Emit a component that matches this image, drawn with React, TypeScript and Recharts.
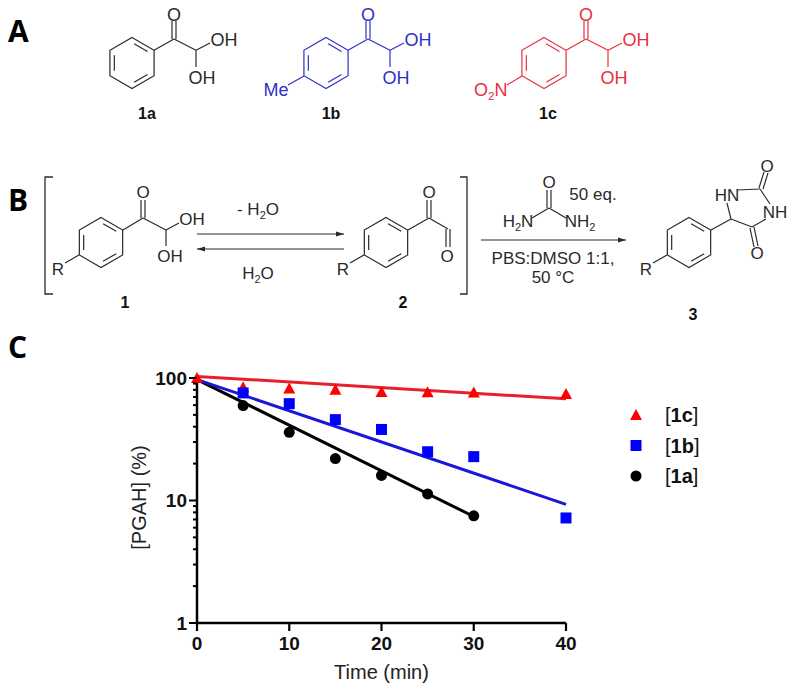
import { ComposedChart, Line, XAxis, YAxis, Legend } from 'recharts';

const times = [0, 5, 10, 15, 20, 25, 30, 40];
const values1a = [null, 59.5, 36, 22, 16, 11.3, 7.5, null];
const values1b = [null, 75.5, 61.7, 45.7, 38, 25, 22.8, 7.2];
const values1c = [100, 84, 82, 80, 77, 76.5, 76, 74];
const fit1a = [97, null, null, null, null, null, 7.4, null];
const fit1b = [97, null, null, null, null, null, null, 9.3];
const fit1c = [103, null, null, null, null, null, null, 67.6];
const xTicks = [0, 10, 20, 30, 40];
const yMajorTicks = [1, 10, 100];
const yTicks = [1, 2, 3, 4, 5, 6, 7, 8, 9, 10, 20, 30, 40, 50, 60, 70, 80, 90, 100];
const legendItems = [
  { label: '1c', shape: 'triangle' },
  { label: '1b', shape: 'square' },
  { label: '1a', shape: 'circle' },
];

const tableRows = times.map((time, i) => ({
  time,
  a: values1a[i],
  b: values1b[i],
  c: values1c[i],
  fitA: fit1a[i],
  fitB: fit1b[i],
  fitC: fit1c[i],
}));

const RED = '#ff0000';
const BLUE = '#0000ff';
const FONT = '"Liberation Sans", Arial, sans-serif';
const CHEM_BLUE = '#3030c8';
const CHEM_RED = '#e8303c';
const CHEM_GREY = '#2a2a2a';

function Marker({ shape, cx, cy, color }: { shape: string; cx: number; cy: number; color: string }) {
  if (shape === 'triangle') {
    return <polygon points={`${cx},${cy - 6} ${cx + 6},${cy + 5} ${cx - 6},${cy + 5}`} fill={color} />;
  }
  if (shape === 'square') {
    return <rect x={cx - 5.5} y={cy - 5.5} width={11} height={11} fill={color} />;
  }
  return <circle cx={cx} cy={cy} r={5.5} fill={color} />;
}

const dotFor = (shape: string, color: string) => (props: any) => {
  const { cx, cy, index } = props;
  if (cx == null || cy == null) return <g key={index} />;
  return <Marker key={index} shape={shape} cx={cx} cy={cy} color={color} />;
};

function LogTick({ x, y, payload }: any) {
  const major = yMajorTicks.includes(payload.value);
  return (
    <g>
      <line x1={x} x2={x - (major ? 8 : 4)} y1={y} y2={y} stroke="#000" strokeWidth={2} />
      {major && (
        <text x={x - 10} y={y + 7} textAnchor="end" fontFamily={FONT} fontWeight="bold" fontSize={19} fill="#111">
          {payload.value}
        </text>
      )}
    </g>
  );
}

function LegendBox() {
  return (
    <svg width={110} height={100} style={{ display: 'block' }}>
      {legendItems.map((item, i) => {
        const color = item.shape === 'triangle' ? RED : item.shape === 'square' ? BLUE : '#000';
        return (
          <g key={item.label}>
            <Marker shape={item.shape} cx={14} cy={15 + i * 30.5} color={color} />
            <text x={43} y={22 + i * 30.5} fontFamily={FONT} fontSize={20} fill="#111">
              [<tspan fontWeight="bold">{item.label}</tspan>]
            </text>
          </g>
        );
      })}
    </svg>
  );
}

// text helper, subscripts are written as H_2O
function Chem({ x, y, t, color, anchor = 'middle', size = 17 }: any) {
  const parts = String(t).split('_');
  return (
    <text x={x} y={y} textAnchor={anchor} fontFamily={FONT} fontSize={size} fill={color}>
      {parts.map((p, i) => {
        if (i === 0) return <tspan key={i}>{p}</tspan>;
        return (
          <tspan key={i}>
            <tspan dy={4} fontSize={size * 0.65}>{p[0]}</tspan>
            {p.length > 1 && <tspan dy={-4}>{p.slice(1)}</tspan>}
          </tspan>
        );
      })}
    </text>
  );
}

function Bond({ p, color, w = 1.2 }: any) {
  return <line x1={p[0]} y1={p[1]} x2={p[2]} y2={p[3]} stroke={color} strokeWidth={w} />;
}

function Ring({ cx, cy, r, color }: any) {
  const pts = [-90, -30, 30, 90, 150, 210].map((d) => [
    cx + r * Math.cos((d * Math.PI) / 180),
    cy + r * Math.sin((d * Math.PI) / 180),
  ]);
  const inner = pts.map((p) => [cx + (p[0] - cx) * 0.8, cy + (p[1] - cy) * 0.8]);
  return (
    <g>
      <polygon points={pts.map((p) => p.join(',')).join(' ')} fill="none" stroke={color} strokeWidth={1.2} />
      {[[0, 1], [2, 3], [4, 5]].map(([a, b]) => {
        const s = 0.12;
        const ax = inner[a][0] + (inner[b][0] - inner[a][0]) * s;
        const ay = inner[a][1] + (inner[b][1] - inner[a][1]) * s;
        const bx = inner[b][0] + (inner[a][0] - inner[b][0]) * s;
        const by = inner[b][1] + (inner[a][1] - inner[b][1]) * s;
        return <line key={a} x1={ax} y1={ay} x2={bx} y2={by} stroke={color} strokeWidth={1.2} />;
      })}
    </g>
  );
}

function Carbonyl({ x, y, top, color }: any) {
  return (
    <g>
      <Bond p={[x - 2, y, x - 2, top]} color={color} />
      <Bond p={[x + 2, y, x + 2, top]} color={color} />
    </g>
  );
}

function Hydrate({ cx, cy, color }: any) {
  return (
    <g>
      <Ring cx={cx} cy={cy} r={25.5} color={color} />
      <Bond p={[cx + 22, cy - 12.7, cx + 42, cy - 24]} color={color} />
      <Carbonyl x={cx + 42} y={cy - 24} top={cy - 42} color={color} />
      <Bond p={[cx + 42, cy - 24, cx + 64, cy - 12.7]} color={color} />
      <Bond p={[cx + 64, cy - 12.7, cx + 78, cy - 20]} color={color} />
      <Bond p={[cx + 64, cy - 12.7, cx + 64, cy + 4]} color={color} />
      <Chem x={cx + 42} y={cy - 42.5} t="O" color={color} size={18} />
      <Chem x={cx + 92} y={cy - 17} t="OH" color={color} size={18} />
      <Chem x={cx + 70} y={cy + 21} t="OH" color={color} size={18} />
    </g>
  );
}

function Arrow({ x1, x2, y }: any) {
  const dir = x2 > x1 ? 1 : -1;
  return (
    <g>
      <line x1={x1} y1={y} x2={x2} y2={y} stroke={CHEM_GREY} strokeWidth={1.2} />
      <polygon points={`${x2},${y} ${x2 - dir * 8},${y - 2.5} ${x2 - dir * 8},${y + 2.5}`} fill={CHEM_GREY} />
    </g>
  );
}

function Schemes() {
  const bk = CHEM_GREY;
  return (
    <svg width={791} height={375} style={{ position: 'absolute', left: 0, top: 0 }}>
      <text x={8} y={42} fontFamily='"Open Sans"' fontWeight="bold" fontSize={30} fill="#000">A</text>
      <text x={8} y={211} fontFamily='"Open Sans"' fontWeight="bold" fontSize={30} fill="#000">B</text>
      <text x={8} y={358} fontFamily='"Open Sans"' fontWeight="bold" fontSize={30} fill="#000">C</text>

      <Hydrate cx={132} cy={63} color={bk} />
      <Hydrate cx={326} cy={63} color={CHEM_BLUE} />
      <Bond p={[304, 76, 288, 85]} color={CHEM_BLUE} />
      <Chem x={276} y={96} t="Me" color={CHEM_BLUE} size={18} />
      <Hydrate cx={544} cy={63} color={CHEM_RED} />
      <Bond p={[522, 76, 507, 85]} color={CHEM_RED} />
      <Chem x={474} y={96} t="O_2N" color={CHEM_RED} anchor="start" size={18} />
      <text x={147} y={119} textAnchor="middle" fontFamily={FONT} fontWeight="bold" fontSize={16} fill="#111">1a</text>
      <text x={331} y={119} textAnchor="middle" fontFamily={FONT} fontWeight="bold" fontSize={16} fill="#111">1b</text>
      <text x={548} y={119} textAnchor="middle" fontFamily={FONT} fontWeight="bold" fontSize={16} fill="#111">1c</text>

      <polyline points="53,177 45,177 45,294 53,294" fill="none" stroke={bk} strokeWidth={1.3} />
      <polyline points="460,177 467,177 467,294 460,294" fill="none" stroke={bk} strokeWidth={1.3} />

      <Ring cx={101} cy={242.5} r={25} color={bk} />
      <Bond p={[79, 255, 65, 263]} color={bk} />
      <Chem x={58} y={275} t="R" color={bk} />
      <Bond p={[123, 230, 143, 218]} color={bk} />
      <Carbonyl x={143} y={218} top={200} color={bk} />
      <Bond p={[143, 218, 166, 230]} color={bk} />
      <Bond p={[166, 230, 179, 223]} color={bk} />
      <Bond p={[166, 230, 166, 246]} color={bk} />
      <Chem x={143} y={198} t="O" color={bk} />
      <Chem x={192} y={225} t="OH" color={bk} />
      <Chem x={170} y={262} t="OH" color={bk} />

      <Arrow x1={197} x2={344} y={234} />
      <Arrow x1={344} x2={197} y={249} />
      <Chem x={258} y={215} t="- H_2O" color={bk} />
      <Chem x={258} y={279} t="H_2O" color={bk} />

      <Ring cx={386} cy={242.5} r={25} color={bk} />
      <Bond p={[364, 255, 350, 263]} color={bk} />
      <Chem x={343} y={275} t="R" color={bk} />
      <Bond p={[408, 230, 429, 218]} color={bk} />
      <Carbonyl x={429} y={218} top={200} color={bk} />
      <Bond p={[429, 218, 448, 229]} color={bk} />
      <Carbonyl x={448} y={229} top={247} color={bk} />
      <Chem x={429} y={198} t="O" color={bk} />
      <Chem x={447} y={262} t="O" color={bk} />

      <text x={125} y={308} textAnchor="middle" fontFamily={FONT} fontWeight="bold" fontSize={16} fill="#111">1</text>
      <text x={403} y={308} textAnchor="middle" fontFamily={FONT} fontWeight="bold" fontSize={16} fill="#111">2</text>
      <text x={693} y={320} textAnchor="middle" fontFamily={FONT} fontWeight="bold" fontSize={16} fill="#111">3</text>

      <Arrow x1={481} x2={626} y={240} />
      <Carbonyl x={549} y={208} top={190} color={bk} />
      <Bond p={[549, 208, 532, 218]} color={bk} />
      <Bond p={[549, 208, 566, 218]} color={bk} />
      <Chem x={549} y={188} t="O" color={bk} />
      <Chem x={518} y={227} t="H_2N" color={bk} />
      <Chem x={580} y={227} t="NH_2" color={bk} />
      <Chem x={593} y={200} t="50 eq." color={bk} />
      <Chem x={553} y={264} t="PBS:DMSO 1:1," color={bk} />
      <Chem x={553} y={283} t="50 °C" color={bk} />

      <Ring cx={689} cy={242.5} r={25} color={bk} />
      <Bond p={[667, 255, 653, 263]} color={bk} />
      <Chem x={646} y={275} t="R" color={bk} />
      <Bond p={[711, 230, 731, 219]} color={bk} />
      <Bond p={[731, 219, 752, 227]} color={bk} />
      <Bond p={[731, 219, 727, 203]} color={bk} />
      <Bond p={[737, 190, 760, 189]} color={bk} />
      <Bond p={[760, 189, 770, 204]} color={bk} />
      <Bond p={[752, 227, 766, 219]} color={bk} />
      <Bond p={[759, 188, 764, 172]} color={bk} />
      <Bond p={[763, 189, 768, 173]} color={bk} />
      <Bond p={[750, 228, 754, 247]} color={bk} />
      <Bond p={[754, 227, 758, 246]} color={bk} />
      <Chem x={727} y={201} t="HN" color={bk} />
      <Chem x={767} y={172} t="O" color={bk} />
      <Chem x={775} y={218} t="NH" color={bk} />
      <Chem x={757} y={259} t="O" color={bk} />
    </svg>
  );
}

export default function App() {
  return (
    <div style={{ position: 'absolute', left: 0, top: 0, width: 791, height: 686, background: '#fff' }}>
      <Schemes />
      <ComposedChart
        width={791}
        height={686}
        data={tableRows}
        margin={{ top: 376.4, right: 225, left: 137, bottom: 23 }}
        style={{ position: 'absolute', left: 0, top: 0 }}
      >
        <XAxis
          dataKey="time"
          type="number"
          domain={[0, 40]}
          ticks={xTicks}
          height={40}
          tickSize={8}
          tickMargin={6}
          axisLine={{ stroke: '#000', strokeWidth: 2.5 }}
          tickLine={{ stroke: '#000', strokeWidth: 2.2 }}
          tick={{ fontFamily: FONT, fontWeight: 'bold', fontSize: 19, fill: '#111' }}
          label={{ value: 'Time (min)', position: 'bottom', offset: 0, dy: 2, style: { fontFamily: FONT, fontSize: 20, fill: '#222' } }}
        />
        <YAxis
          type="number"
          scale="log"
          domain={[1, 100]}
          ticks={yTicks}
          interval={0}
          width={60}
          tickSize={0}
          tickMargin={0}
          tickLine={false}
          axisLine={{ stroke: '#000', strokeWidth: 2.5 }}
          tick={<LogTick />}
          label={{ value: '[PGAH] (%)', angle: -90, position: 'insideLeft', offset: 0, dx: 2, dy: 50, style: { fontFamily: FONT, fontSize: 20, fill: '#222' } }}
        />
        <Legend
          layout="vertical"
          align="center"
          verticalAlign="middle"
          wrapperStyle={{ position: 'absolute', left: 622, top: 400, width: 110, height: 100 }}
          content={<LegendBox />}
        />
        <Line dataKey="fitA" stroke="#000" strokeWidth={3} dot={false} connectNulls isAnimationActive={false} legendType="none" />
        <Line dataKey="a" stroke="none" dot={dotFor('circle', '#000')} isAnimationActive={false} legendType="none" />
        <Line dataKey="fitB" stroke="#1818d8" strokeWidth={3} dot={false} connectNulls isAnimationActive={false} legendType="none" />
        <Line dataKey="fitC" stroke="#e8202c" strokeWidth={3} dot={false} connectNulls isAnimationActive={false} legendType="none" />
        <Line dataKey="c" stroke="none" dot={dotFor('triangle', RED)} isAnimationActive={false} legendType="none" />
        <Line dataKey="b" stroke="none" dot={dotFor('square', BLUE)} isAnimationActive={false} legendType="none" />
      </ComposedChart>
    </div>
  );
}
